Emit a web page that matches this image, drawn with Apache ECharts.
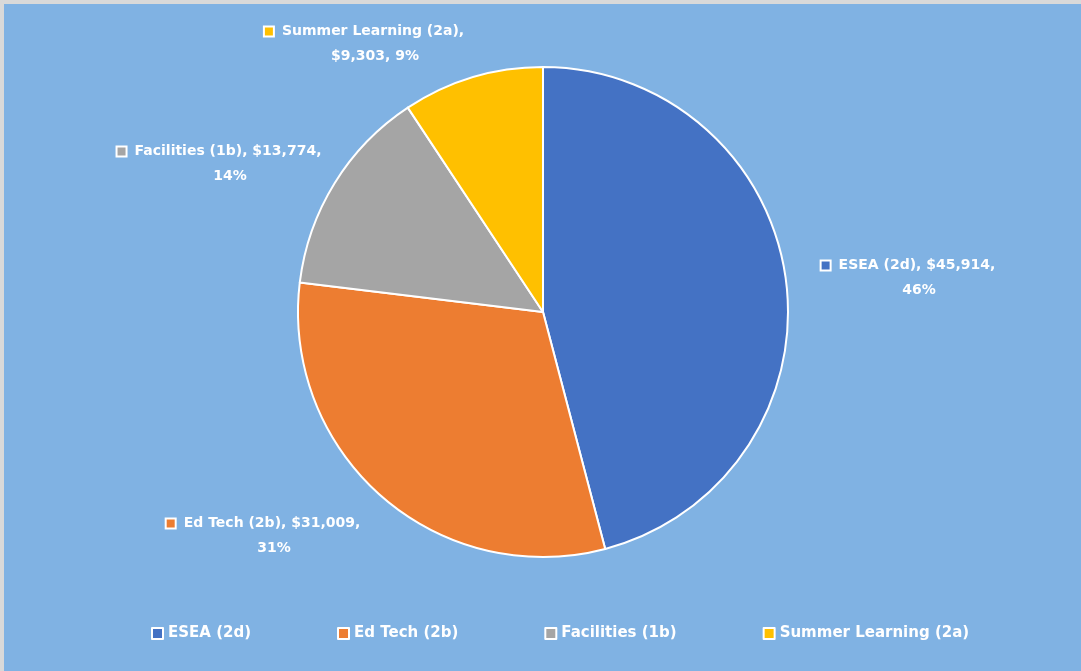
<!DOCTYPE html>
<html>
<head>
<meta charset="utf-8">
<script src="https://cdn.jsdelivr.net/npm/echarts@6/dist/echarts.min.js"></script>
<style>
  html, body { margin: 0; height: 100%; background: #d9d9d9; }
  #container { position: absolute; left: 4px; top: 4px; width: 1077px; height: 667px; }
</style>
</head>
<body>
<div id="container"></div>
<script>
const categories = ['ESEA (2d)', 'Ed Tech (2b)', 'Facilities (1b)', 'Summer Learning (2a)'];
const amounts = [45914, 31009, 13774, 9303];
const colors = ['#4472C4', '#ED7D31', '#A5A5A5', '#FFC000'];

// where Excel put each data label (centre of the text block, chart coords)
const labelSpots = [[915, 274], [270, 532], [226, 160], [371, 40]];

const font = 'DejaVu Sans';
const total = amounts.reduce((a, b) => a + b, 0);
const money = v => '$' + v.toLocaleString('en-US');

const chart = echarts.init(document.getElementById('container'));

chart.setOption({
  backgroundColor: '#80B2E3',
  color: colors,
  legend: {
    top: 617,
    left: 142,
    itemWidth: 11,
    itemHeight: 11,
    itemGap: 86,
    icon: 'rect',
    itemStyle: { borderColor: '#fff', borderWidth: 2 },
    textStyle: { color: '#fff', fontFamily: font, fontWeight: 'bold', fontSize: 15 },
    data: categories
  },
  series: [{
    type: 'pie',
    center: [539, 308],
    radius: 245,
    startAngle: 90,
    clockwise: true,
    animation: false,
    itemStyle: { borderColor: '#fff', borderWidth: 2 },
    labelLine: { show: false },
    emphasis: { disabled: true },
    data: categories.map((c, i) => ({
      name: c,
      value: amounts[i],
      label: {
        rich: {
          icon: {
            width: 8, height: 8,
            backgroundColor: colors[i],
            borderColor: '#fff', borderWidth: 2
          }
        }
      }
    })),
    label: {
      show: true,
      position: 'outside',
      align: 'center',
      color: '#fff',
      fontFamily: font,
      fontWeight: 'bold',
      fontSize: 14,
      lineHeight: 25,
      formatter: p => {
        const pct = Math.round(p.value / total * 100) + '%';
        let l1, l2;
        if (p.name.length > 16) {
          l1 = p.name + ',';
          l2 = money(p.value) + ', ' + pct;
        } else {
          l1 = p.name + ', ' + money(p.value) + ',';
          l2 = pct;
        }
        return '{icon|}{gap|}{t|' + l1 + '}{sp|}\n{t|' + l2 + '}';
      },
      rich: {
        t: { color: '#fff', fontFamily: font, fontWeight: 'bold', fontSize: 14, lineHeight: 25 },
        gap: { width: 9 },
        sp: { width: 21 }
      }
    },
    labelLayout: p => ({
      x: labelSpots[p.dataIndex][0],
      y: labelSpots[p.dataIndex][1],
      align: 'center',
      verticalAlign: 'middle'
    })
  }]
});
</script>
</body>
</html>
